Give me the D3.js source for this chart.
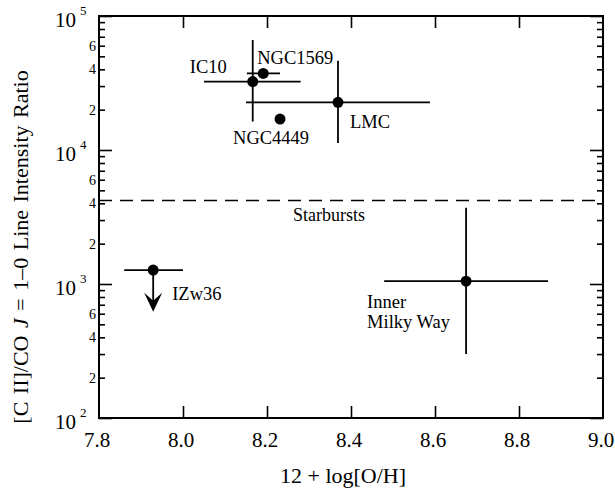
<!doctype html>
<html>
<meta charset="utf-8">
<style>
body { margin: 0; padding: 0; background: #fff; }
</style>
<body>
<svg width="615" height="490" font-family="Liberation Serif, Times New Roman, Times, DejaVu Serif, serif"></svg>
<script src="https://cdnjs.cloudflare.com/ajax/libs/d3/7.8.5/d3.min.js"></script>
<script>

// galaxies: oxygen abundance and [CII]/CO ratio, with error ranges
var names    = ["IC10", "NGC1569", "NGC4449", "LMC", "IZw36", "Inner Milky Way"];
var oh       = [8.166, 8.191, 8.231, 8.369, 7.929, 8.674];
var ohLo     = [8.05,  8.152, null,  8.15,  7.86,  8.479];
var ohHi     = [8.28,  8.231, null,  8.588, 8.00,  8.869];
var ratio    = [32400, 37300, 17000, 22700, 1270,  1050];
var ratioLo  = [16300, null,  null,  11300, null,  300];
var ratioHi  = [66200, null,  null,  46400, null,  3700];
var upperLim = [null,  null,  null,  null,  620,   null];

var starburstLevel = 4200;

var xTicks = [7.8, 8.0, 8.2, 8.4, 8.6, 8.8, 9.0];
var yDecades = [100, 1000, 10000, 100000];
var yMinorLabels = [2, 4, 6];

// label placement relative to the point (pixels)
var labelDx = [-63, -6, -47, 12, 19, -99];
var labelDy = [-9, -9, 25, 26, 30, 27];

var svg = d3.select("svg"),
    pL = 99, pR = 603, pT = 16, pB = 418;

var x = d3.scaleLinear().domain([7.8, 9.0]).range([pL, pR]);
var y = d3.scaleLog().domain([100, 100000]).range([pB, pT]);

var minors = [];
yDecades.slice(0, -1).forEach(function(d) {
  for (var k = 2; k <= 9; k++) minors.push(d * k);
});

// ticks, all pointing inward
function tickStyle(g) {
  g.attr("font-family", null).attr("font-size", null);
  g.select(".domain").remove();
  g.selectAll("line").attr("stroke", "#000").attr("stroke-width", 1.6);
  g.selectAll("text").remove();
}
svg.append("g").attr("transform", "translate(0," + pB + ")")
  .call(d3.axisBottom(x).tickValues(xTicks.slice(1, -1)).tickSize(-12)).call(tickStyle);
svg.append("g").attr("transform", "translate(0," + pT + ")")
  .call(d3.axisTop(x).tickValues(xTicks.slice(1, -1)).tickSize(-12)).call(tickStyle);
svg.append("g").attr("transform", "translate(" + pL + ",0)")
  .call(d3.axisLeft(y).tickValues(yDecades).tickSize(-13)).call(tickStyle);
svg.append("g").attr("transform", "translate(" + pL + ",0)")
  .call(d3.axisLeft(y).tickValues(minors).tickSize(-6)).call(tickStyle);
svg.append("g").attr("transform", "translate(" + pR + ",0)")
  .call(d3.axisRight(y).tickValues(yDecades).tickSize(-13)).call(tickStyle);
svg.append("g").attr("transform", "translate(" + pR + ",0)")
  .call(d3.axisRight(y).tickValues(minors).tickSize(-6)).call(tickStyle);

// frame
svg.append("rect")
  .attr("x", pL).attr("y", pT)
  .attr("width", pR - pL).attr("height", pB - pT)
  .attr("fill", "none").attr("stroke", "#000").attr("stroke-width", 2);

// x tick labels
svg.selectAll(".xlab").data(xTicks).enter().append("text")
  .attr("x", function(d) { return x(d) - 2; })
  .attr("y", 447)
  .attr("text-anchor", "middle")
  .attr("font-size", 21)
  .text(function(d) { return d.toFixed(1); });

// y decade labels: 10^n
yDecades.forEach(function(d) {
  svg.append("text")
    .attr("x", 76).attr("y", y(d) + 11)
    .attr("text-anchor", "end")
    .attr("font-size", 21)
    .text("10");
  svg.append("text")
    .attr("x", 80).attr("y", y(d) - 1)
    .attr("font-size", 13)
    .text(Math.round(Math.log10(d)));
});

// y minor labels
yDecades.slice(0, -1).forEach(function(d) {
  yMinorLabels.forEach(function(k) {
    svg.append("text")
      .attr("x", 96).attr("y", y(d * k))
      .attr("dy", "0.35em")
      .attr("text-anchor", "end")
      .attr("font-size", 14)
      .text(k);
  });
});

// starburst level
svg.append("line")
  .attr("x1", pL).attr("x2", pR)
  .attr("y1", y(starburstLevel)).attr("y2", y(starburstLevel))
  .attr("stroke", "#000").attr("stroke-width", 1.6)
  .attr("stroke-dasharray", "13,8");
svg.append("text")
  .attr("x", 293).attr("y", y(starburstLevel) + 21)
  .attr("font-size", 18)
  .text("Starbursts");

// error bars
var eb = svg.append("g").attr("stroke", "#000").attr("stroke-width", 1.8);
names.forEach(function(n, i) {
  if (ohLo[i] != null) {
    eb.append("line")
      .attr("x1", x(ohLo[i])).attr("x2", x(ohHi[i]))
      .attr("y1", y(ratio[i])).attr("y2", y(ratio[i]));
  }
  if (ratioLo[i] != null) {
    eb.append("line")
      .attr("x1", x(oh[i])).attr("x2", x(oh[i]))
      .attr("y1", y(ratioLo[i])).attr("y2", y(ratioHi[i]));
  }
  if (upperLim[i] != null) {
    var ax = x(oh[i]), ay = y(upperLim[i]);
    eb.append("line")
      .attr("x1", ax).attr("x2", ax)
      .attr("y1", y(ratio[i])).attr("y2", ay - 4);
    svg.append("path")
      .attr("d", "M" + ax + "," + ay + " L" + (ax - 9) + "," + (ay - 19) +
                 " L" + ax + "," + (ay - 11) + " L" + (ax + 9) + "," + (ay - 19) + "Z")
      .attr("fill", "#000");
  }
});

// points
svg.selectAll(".pt").data(names).enter().append("circle")
  .attr("cx", function(d, i) { return x(oh[i]); })
  .attr("cy", function(d, i) { return y(ratio[i]); })
  .attr("r", 5.5)
  .attr("fill", "#000");

// point labels
names.forEach(function(n, i) {
  var t = svg.append("text")
    .attr("x", x(oh[i]) + labelDx[i])
    .attr("y", y(ratio[i]) + labelDy[i])
    .attr("font-size", 18.5);
  if (n == "Inner Milky Way") {
    t.append("tspan").text("Inner");
    t.append("tspan").attr("x", x(oh[i]) + labelDx[i]).attr("dy", 20).text("Milky Way");
  } else {
    t.text(n);
  }
});

// axis titles
svg.append("text")
  .attr("x", 343).attr("y", 483)
  .attr("text-anchor", "middle")
  .attr("font-size", 22)
  .text("12 + log[O/H]");

var yt = svg.append("text")
  .attr("transform", "translate(28,247) rotate(-90)")
  .attr("text-anchor", "middle")
  .attr("font-size", 22)
  .style("word-spacing", "2px");
yt.append("tspan").text("[C II]/CO ");
yt.append("tspan").attr("font-style", "italic").text("J");
yt.append("tspan").text(" = 1\u20130 Line Intensity Ratio");

</script>
</body>
</html>
